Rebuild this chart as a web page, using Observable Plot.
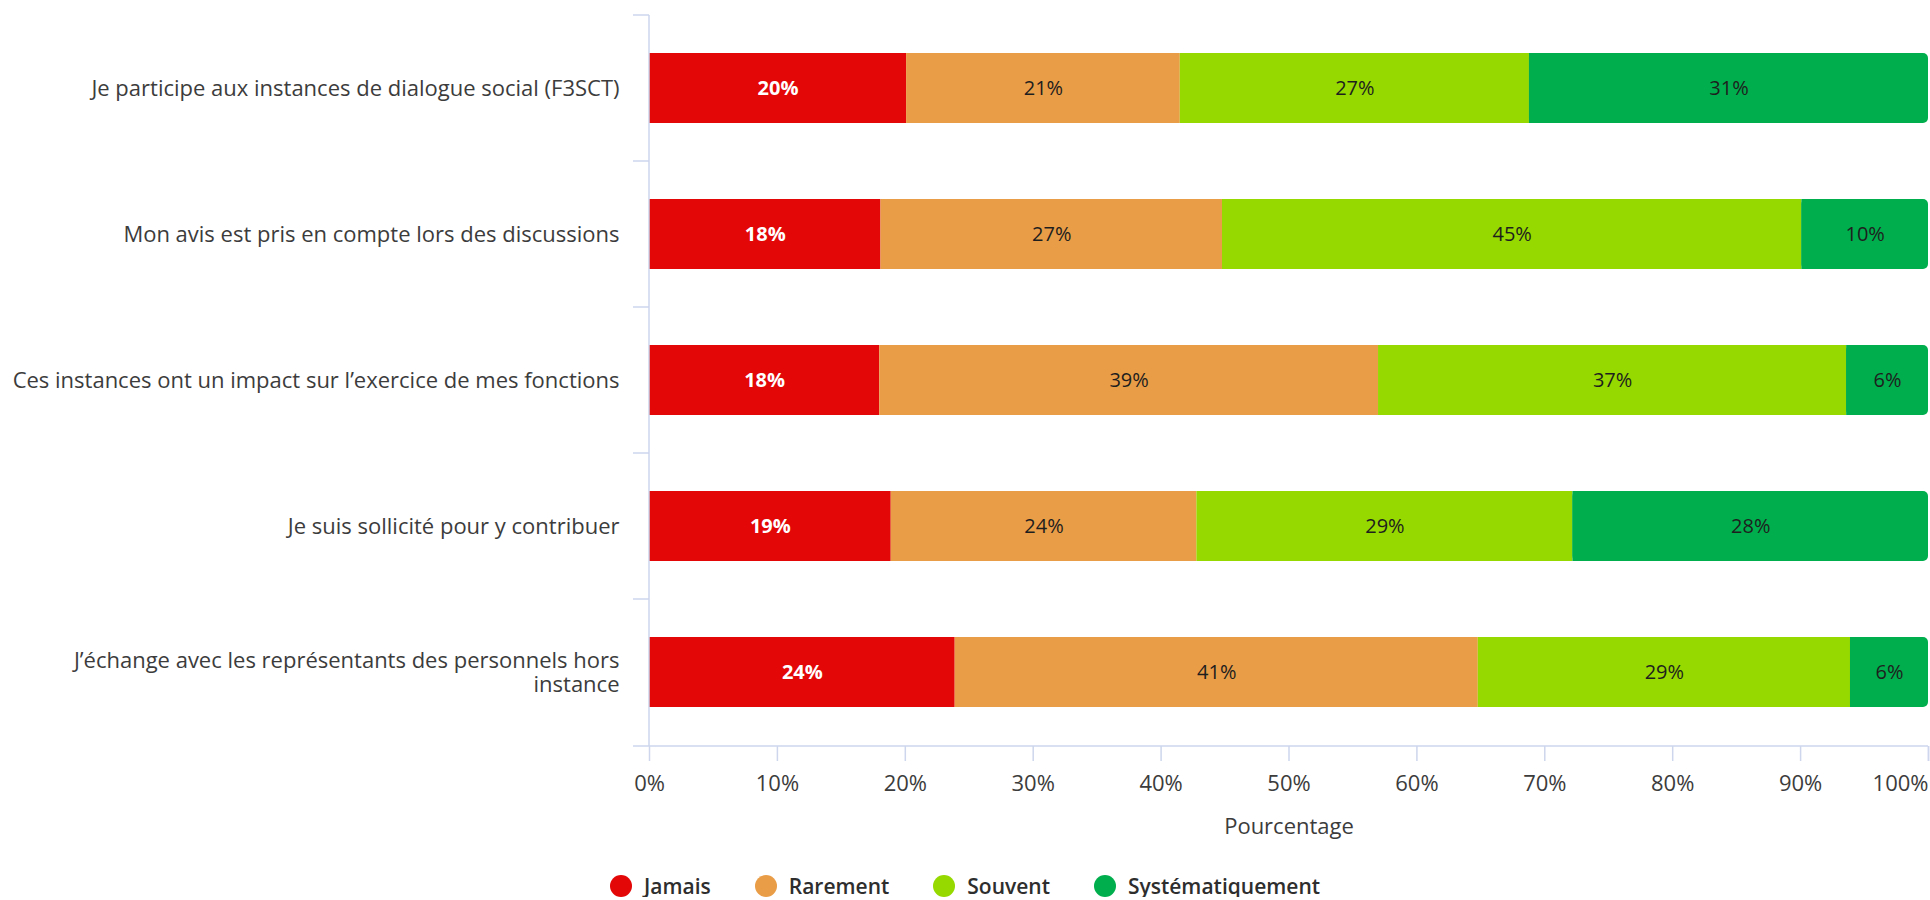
<!DOCTYPE html>
<html>
<head>
<meta charset="utf-8">
<script src="https://cdn.jsdelivr.net/npm/d3@7"></script>
<script src="https://cdn.jsdelivr.net/npm/@observablehq/plot@0.6"></script>
<style>
  body { margin: 0; background: #fff; font-family: "Open Sans", sans-serif; }
  #chart svg { display: block; }
  .legend { display: flex; justify-content: center; align-items: center; gap: 44px; margin-top: 20px; height: 22px; font-size: 21px; font-weight: 600; color: #2e2e2e; }
  .legend span.item { display: flex; align-items: center; gap: 12px; }
  .legend span.dot { width: 22px; height: 22px; border-radius: 50%; display: inline-block; }
</style>
</head>
<body>
<div id="chart"></div>
<div class="legend" id="legend"></div>
<script>
const categories = [
  "Je participe aux instances de dialogue social (F3SCT)",
  "Mon avis est pris en compte lors des discussions",
  "Ces instances ont un impact sur l’exercice de mes fonctions",
  "Je suis sollicité pour y contribuer",
  "J’échange avec les représentants des personnels hors instance"
];
const categoryLabels = [
  "Je participe aux instances de dialogue social (F3SCT)",
  "Mon avis est pris en compte lors des discussions",
  "Ces instances ont un impact sur l’exercice de mes fonctions",
  "Je suis sollicité pour y contribuer",
  "J’échange avec les représentants des personnels hors\ninstance"
];
const series = ["Jamais", "Rarement", "Souvent", "Systématiquement"];
const colors = ["#e30707", "#ea9d47", "#95d900", "#00ae4d"];
const jamais = [20.1, 18.1, 18.0, 18.9, 23.9];
const rarement = [21.4, 26.7, 39.0, 23.9, 40.9];
const souvent = [27.3, 45.3, 36.6, 29.4, 29.1];
const systematiquement = [31.2, 9.9, 6.4, 27.8, 6.1];
const xTicks = [0, 10, 20, 30, 40, 50, 60, 70, 80, 90, 100];

const seriesValues = [jamais, rarement, souvent, systematiquement];
const data = [];
categories.forEach((c, i) => {
  series.forEach((s, j) => data.push({cat: c, series: s, value: seriesValues[j][i]}));
});
const labelOf = new Map(categories.map((c, i) => [c, categoryLabels[i]]));
const axisColor = "#cdd6ec";
const textColor = "#3c3c3c";
const xMax = xTicks[xTicks.length - 1];
const lastSeries = series[series.length - 1];

function axisLines(index, scales, values, dims) {
  const x = scales.x, y = scales.y;
  const step = y.step(), bw = y.bandwidth();
  const g = d3.create("svg:g").attr("stroke", axisColor).attr("stroke-width", 1.5).attr("fill", "none");
  const x0 = x(0), x1 = x(xMax);
  const yTop = dims.marginTop, yBot = dims.height - dims.marginBottom;
  g.append("line").attr("x1", x0).attr("x2", x0).attr("y1", yTop).attr("y2", yBot);
  for (const c of categories) {
    const yy = y(c) - (step - bw) / 2;
    g.append("line").attr("x1", x0 - 16).attr("x2", x0).attr("y1", yy).attr("y2", yy);
  }
  g.append("line").attr("x1", x0 - 16).attr("x2", x1).attr("y1", yBot).attr("y2", yBot);
  return g.node();
}

const stackOpts = {x: "value", y: "cat", z: "series", order: null};
const pct = d => Math.round(d.value) + "%";

const chart = Plot.plot({
  width: 1930,
  height: 855,
  marginLeft: 649,
  marginRight: 2,
  marginTop: 15,
  marginBottom: 109,
  style: {fontFamily: "Open Sans, sans-serif", fontSize: "22px", color: textColor},
  x: {domain: [0, xMax]},
  y: {domain: categories, paddingInner: 0.52, paddingOuter: 0.26},
  color: {domain: series, range: colors},
  marks: [
    Plot.barX(data, Plot.filter(d => d.series !== lastSeries, Plot.stackX({...stackOpts, fill: "series"}))),
    Plot.barX(data, Plot.filter(d => d.series === lastSeries, Plot.stackX({...stackOpts, fill: "series", rx: 5}))),
    Plot.barX(data, Plot.filter(d => d.series === lastSeries, Plot.stackX({...stackOpts, fill: "series", insetRight: 6}))),
    Plot.textX(data, Plot.filter(d => d.series === series[0], Plot.stackX({...stackOpts, text: pct, fill: "white", fontWeight: 700, fontSize: 20}))),
    Plot.textX(data, Plot.filter(d => d.series !== series[0], Plot.stackX({...stackOpts, text: pct, fill: "#1e1e1e", fontSize: 20}))),
    Plot.axisY({tickSize: 0, tickPadding: 30, tickFormat: c => labelOf.get(c), fontSize: 22, lineHeight: 1.08, fill: textColor, label: null}),
    Plot.axisX({ticks: xTicks, tickSize: 15, tickPadding: 14, tickFormat: d => d === xMax ? "" : d + "%", stroke: axisColor, strokeWidth: 1.5, fill: textColor, fontSize: 22, label: "Pourcentage", labelAnchor: "center", labelArrow: false, labelOffset: 87}),
    Plot.axisX({ticks: [xMax], tickSize: 15, tickPadding: 14, tickFormat: d => d + "%", textAnchor: "end", stroke: axisColor, strokeWidth: 1.5, fill: textColor, fontSize: 22, label: null}),
    axisLines
  ]
});
document.getElementById("chart").appendChild(chart);

const legend = document.getElementById("legend");
series.forEach((s, i) => {
  const item = document.createElement("span");
  item.className = "item";
  const dot = document.createElement("span");
  dot.className = "dot";
  dot.style.background = colors[i];
  const t = document.createElement("span");
  t.textContent = s;
  item.appendChild(dot);
  item.appendChild(t);
  legend.appendChild(item);
});
</script>
</body>
</html>
